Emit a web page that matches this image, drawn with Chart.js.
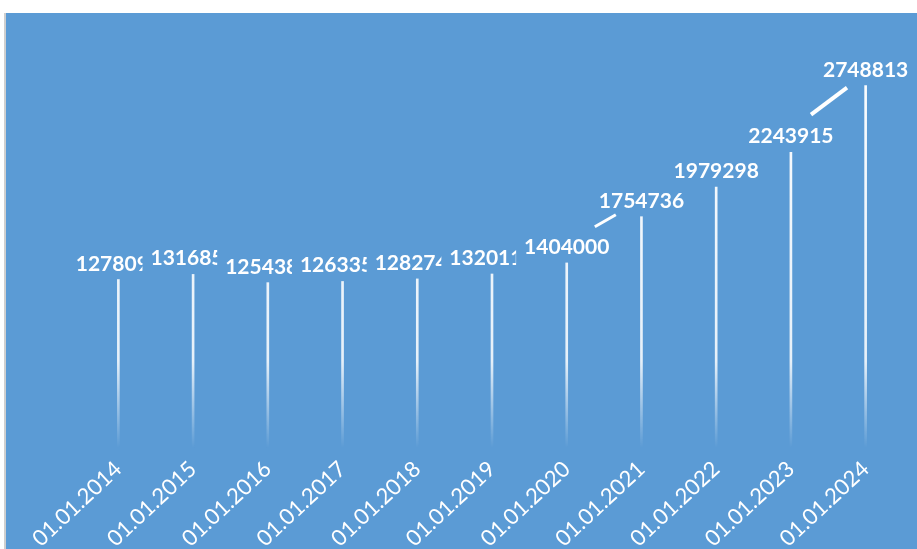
<!DOCTYPE html>
<html>
<head>
<meta charset="utf-8">
<script src="https://cdn.jsdelivr.net/npm/chart.js@4.4.1/dist/chart.umd.min.js"></script>
<style>
  html, body { margin: 0; padding: 0; background: #ffffff; }
  #wrap {
    position: absolute;
    left: 4px; top: 13px;
    width: 911px; height: 536px;
    background: #5b9bd5;
    border-left: 2px solid #cfcfcf;
  }
</style>
</head>
<body>
<div id="wrap"><canvas id="chart"></canvas></div>
<script>
// chart data
const dates = ['01.01.2014', '01.01.2015', '01.01.2016', '01.01.2017', '01.01.2018', '01.01.2019',
  '01.01.2020', '01.01.2021', '01.01.2022', '01.01.2023', '01.01.2024'];
const values = [1278095, 1316850, 1254380, 1263350, 1282740, 1320110,
  1404000, 1754736, 1979298, 2243915, 2748813];

const yMax = 3300000;

// white bar that fades out towards the axis
function barFill(context) {
  const chart = context.chart;
  const area = chart.chartArea;
  if (!area) return '#ffffff';
  const g = chart.ctx.createLinearGradient(0, area.top, 0, area.bottom);
  g.addColorStop(0, 'rgba(255,255,255,1)');
  g.addColorStop(0.8, 'rgba(255,255,255,0.85)');
  g.addColorStop(1, 'rgba(255,255,255,0)');
  return g;
}

// value labels above bars, clipped where they run into the next one (like the original)
const valueLabels = {
  id: 'valueLabels',
  afterDatasetsDraw(chart) {
    const ctx = chart.ctx;
    const meta = chart.getDatasetMeta(0);
    ctx.save();
    ctx.font = 'bold 21px Lato';
    ctx.fillStyle = '#ffffff';
    ctx.textBaseline = 'alphabetic';
    ctx.textAlign = 'left';
    const gap = 9, h = 16;
    const boxes = meta.data.map((bar, i) => {
      const txt = String(values[i]);
      const w = ctx.measureText(txt).width;
      return { txt, left: bar.x - w / 2, right: bar.x + w / 2, base: bar.y - gap };
    });
    boxes.forEach((b, i) => {
      const next = boxes[i + 1];
      ctx.save();
      if (next && Math.abs(next.base - b.base) < h && next.left < b.right) {
        ctx.beginPath();
        ctx.rect(b.left - 2, b.base - 30, next.left - b.left - 6, 40);
        ctx.clip();
      }
      ctx.fillText(b.txt, b.left, b.base);
      ctx.restore();
    });

    // leftover leader lines from the original chart
    ctx.strokeStyle = '#ffffff';
    ctx.lineCap = 'butt';
    const l1 = boxes[7];
    ctx.lineWidth = 3;
    ctx.beginPath();
    ctx.moveTo(l1.left - 4, l1.base + 19);
    ctx.lineTo(l1.left + 17, l1.base + 7);
    ctx.stroke();
    const l2 = boxes[10];
    ctx.lineWidth = 4;
    ctx.beginPath();
    ctx.moveTo(l2.left - 12, l2.base + 38);
    ctx.lineTo(l2.left + 24, l2.base + 11);
    ctx.stroke();
    ctx.restore();
  }
};

new Chart(document.getElementById('chart'), {
  type: 'bar',
  data: {
    labels: dates,
    datasets: [{
      data: values,
      backgroundColor: barFill,
      borderWidth: 0,
      barThickness: 2
    }]
  },
  options: {
    responsive: true,
    maintainAspectRatio: false,
    animation: false,
    layout: { padding: { left: 75, right: 14, top: 0, bottom: 0 } },
    plugins: {
      legend: { display: false },
      tooltip: { enabled: false }
    },
    scales: {
      x: {
        grid: { display: false },
        border: { display: false },
        ticks: {
          color: '#ffffff',
          font: { family: 'Lato', size: 22 },
          minRotation: 43,
          maxRotation: 43,
          autoSkip: false,
          padding: 0
        },
        afterFit(scale) {
          scale.height = 101;
          scale.paddingLeft = 0;
          scale.paddingRight = 0;
        }
      },
      y: {
        display: false,
        min: 0,
        max: yMax
      }
    }
  },
  plugins: [valueLabels]
});
</script>
</body>
</html>
